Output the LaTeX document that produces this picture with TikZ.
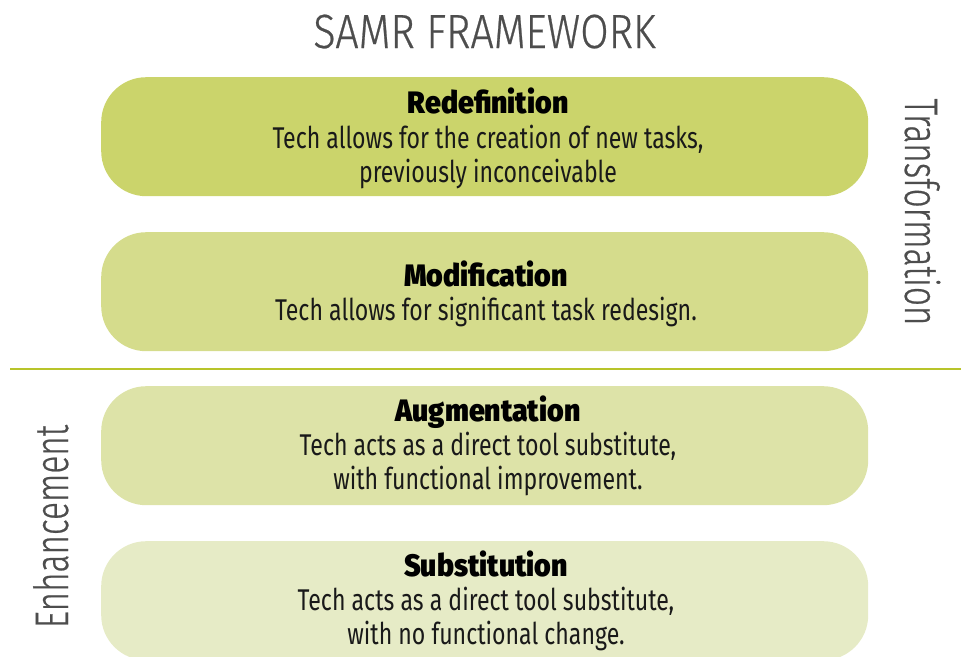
\documentclass[tikz,border=0pt]{standalone}
\usepackage{fontspec}
\setmainfont{Fira Sans}[FakeStretch=0.77]
\newfontfamily\headfont{Fira Sans}[FakeStretch=0.92, UprightFont=* Black, BoldFont=* Black]
\newfontfamily\titlefont{Fira Sans}[FakeStretch=0.86, UprightFont=* Light, FakeBold=0.5]
\newfontfamily\sidefont{Fira Sans}[FakeStretch=0.71, UprightFont=* Light, FakeBold=0.5]
\definecolor{redef}{HTML}{CBD46B}
\definecolor{modif}{HTML}{D5DC8C}
\definecolor{augm}{HTML}{DDE3A8}
\definecolor{subst}{HTML}{E6EBC6}
\definecolor{divider}{HTML}{B8C42A}
\definecolor{labelgray}{HTML}{4D4D4D}
\tikzset{
  level/.style={rectangle, rounded corners=45pt, minimum width=767pt,
    minimum height=119pt, inner sep=0pt, draw=none, anchor=north west},
  heading/.style={anchor=base, font=\headfont\fontsize{31}{34}\selectfont, text=black},
  bodytext/.style={anchor=base, align=center, font=\fontsize{30}{34}\selectfont, text=black!90},
  titletext/.style={font=\titlefont\fontsize{48}{52}\selectfont, text=labelgray, anchor=base},
  sidelabel/.style={font=\sidefont\fontsize{47}{50}\selectfont, text=labelgray, anchor=base},
}
\begin{document}
\begin{tikzpicture}[x=1pt,y=-1pt]
  \useasboundingbox (0,0) rectangle (961,656);
  \clip (0,0) rectangle (961,656);

  % title
  \node[titletext] (title) at (484.5,48) {SAMR FRAMEWORK};

  % the four levels
  \node[level, fill=redef] (redef) at (101,77) {};
  \node[level, fill=modif] (modif) at (101,232) {};
  \node[level, fill=augm]  (augm)  at (101,386) {};
  \node[level, fill=subst] (subst) at (101,541) {};

  \node[heading] (redefh) at (488,113) {Redefinition};
  \node[bodytext] (redefb1) at (488,148) {Tech allows for the creation of new tasks,};
  \node[bodytext] (redefb2) at (488,182) {previously inconceivable};

  \node[heading] (modifh) at (486,286) {Modification};
  \node[bodytext] (modifb1) at (486,320) {Tech allows for significant task redesign.};

  \node[heading] (augmh) at (488,421) {Augmentation};
  \node[bodytext] (augmb1) at (488,455) {Tech acts as a direct tool substitute,};
  \node[bodytext] (augmb2) at (488,489) {with functional improvement.};

  \node[heading] (substh) at (486,576) {Substitution};
  \node[bodytext] (substb1) at (486,610) {Tech acts as a direct tool substitute,};
  \node[bodytext] (substb2) at (486,644) {with no functional change.};

  % divider between transformation and enhancement
  \coordinate (divl) at (10,369);
  \coordinate (divr) at (961,369);
  \draw[divider, line width=2pt] (divl) -- (divr);

  % side labels
  \node[sidelabel, rotate=-90] (transf) at (905,212) {Transformation};
  \node[sidelabel, rotate=90] (enh) at (68,526.5) {Enhancement};
\end{tikzpicture}
\end{document}
